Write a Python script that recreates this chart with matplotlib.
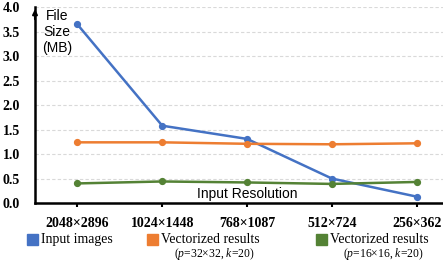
import matplotlib
matplotlib.use("Agg")
import matplotlib.pyplot as plt
from matplotlib.patches import Rectangle

plt.rcParams["mathtext.fontset"] = "custom"
plt.rcParams["mathtext.rm"] = "Liberation Serif"
plt.rcParams["mathtext.it"] = "Liberation Serif:italic"

resolutions = ["2048×2896", "1024×1448", "768×1087", "512×724", "256×362"]
input_images = [3.65, 1.58, 1.31, 0.50, 0.13]
vec_32 = [1.24, 1.24, 1.21, 1.20, 1.22]
vec_16 = [0.40, 0.44, 0.42, 0.39, 0.43]
y_ticks = [0.0, 0.5, 1.0, 1.5, 2.0, 2.5, 3.0, 3.5, 4.0]

series = [
    ("Input images", None, input_images, "#4472C4"),
    ("Vectorized results", r"($\mathit{p}$=32×32, $\mathit{k}$=20)", vec_32, "#ED7D31"),
    ("Vectorized results", r"($\mathit{p}$=16×16, $\mathit{k}$=20)", vec_16, "#548235"),
]

W, H = 443, 262
fig = plt.figure(figsize=(W / 100, H / 100), dpi=100)
ax = fig.add_axes([35 / W, 1 - 203 / H, 1 - 35 / W, (203 - 7.3) / H])

x = range(len(resolutions))
for _, _, vals, color in series:
    ax.plot(x, vals, color=color, lw=1.8, marker="o", ms=4.2, zorder=3)

ax.set_xlim(-0.5, 4.31)
ax.set_ylim(0, 4.0)
ax.set_yticks(y_ticks)
ax.set_yticklabels([f"{v:.1f}" for v in y_ticks], family="Liberation Serif",
                   weight="bold", fontsize=10)
ax.set_xticks(list(x))
ax.set_xticklabels(resolutions, family="Liberation Serif", weight="bold", fontsize=10)
ax.tick_params(axis="y", length=0, pad=11)
ax.tick_params(axis="x", direction="out", length=3, width=1.5, pad=7)
ax.yaxis.grid(True, color="#D9D9D9", ls=(0, (3, 2)), lw=0.8)
ax.set_axisbelow(True)
for s in ("top", "right"):
    ax.spines[s].set_visible(False)
ax.spines["left"].set_linewidth(1.8)
ax.spines["bottom"].set_linewidth(1.8)
ax.annotate("", xy=(-0.5, 4.02), xytext=(-0.5, 3.7),
            arrowprops=dict(arrowstyle="-|>", color="black", lw=1.5,
                            mutation_scale=7), annotation_clip=False)

fig.text(57 / W, 1 - 32 / H, "File\nSize\n(MB)", family="Liberation Sans",
         fontsize=10, ha="center", va="center", linespacing=1.2)
fig.text(247 / W, 1 - 194 / H, "Input Resolution", family="Liberation Sans",
         fontsize=10, ha="center", va="center")

# legend drawn by hand: square, label, optional sub label
legend_x = [27, 147, 316]
for lx, (label, sub, _, color) in zip(legend_x, series):
    fig.add_artist(Rectangle((lx / W, 1 - 245 / H), 11 / W, 11 / H,
                             transform=fig.transFigure, color=color))
    fig.text((lx + 14) / W, 1 - 239.5 / H, label, family="Liberation Serif",
             fontsize=9.9, ha="left", va="center")
    if sub:
        fig.text((lx + 14 + 53) / W, 1 - 254 / H, sub, family="Liberation Serif",
                 fontsize=8.4, ha="center", va="center")

fig.savefig("out.png", dpi=100)
